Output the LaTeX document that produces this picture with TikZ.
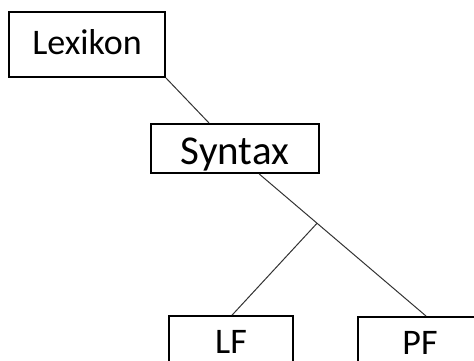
\documentclass[tikz,border=0pt]{standalone}
\usepackage{fontspec}
\setmainfont{Carlito}
\usetikzlibrary{calc}
\begin{document}
\begin{tikzpicture}[x=1pt,y=-1pt,
  box/.style={draw=black,line width=1.8pt,fill=white,rectangle,inner sep=0pt,
    text depth=0pt},
  link/.style={draw=black!80,line width=1pt}]
\useasboundingbox (0,0) rectangle (474,361);
\clip (0,0) rectangle (474,361);
% boxes
\node[box,minimum width=156pt,minimum height=65pt,text height=21pt,
  font=\fontsize{36}{40}\selectfont] (lex) at (87,44.5) {Lexikon};
\node[box,minimum width=168pt,minimum height=49pt,text height=31pt,
  font=\fontsize{41}{46}\selectfont] (syn) at (235,148.5) {Syntax};
\node[box,minimum width=124pt,minimum height=64pt,text height=10pt,
  font=\fontsize{36}{40}\selectfont] (lf) at (231,348) {LF};
\node[box,minimum width=124pt,minimum height=64pt,text height=10pt,
  font=\fontsize{36}{40}\selectfont] (pf) at (420,349) {PF};
% attachment points on the box edges and the branching point
\coordinate (synin) at ([xshift=59pt]syn.north west);
\coordinate (synout) at ([xshift=109pt]syn.south west);
\coordinate (pfin) at ([xshift=69pt]pf.north west);
\coordinate (lfin) at ([xshift=64pt]lf.north west);
\coordinate (branch) at ($(synout)!0.347!(pfin)$);
% connectors
\draw[link] (lex.south east) -- (synin);
\draw[link] (synout) -- (pfin);
\draw[link] (branch) -- (lfin);
\end{tikzpicture}
\end{document}
